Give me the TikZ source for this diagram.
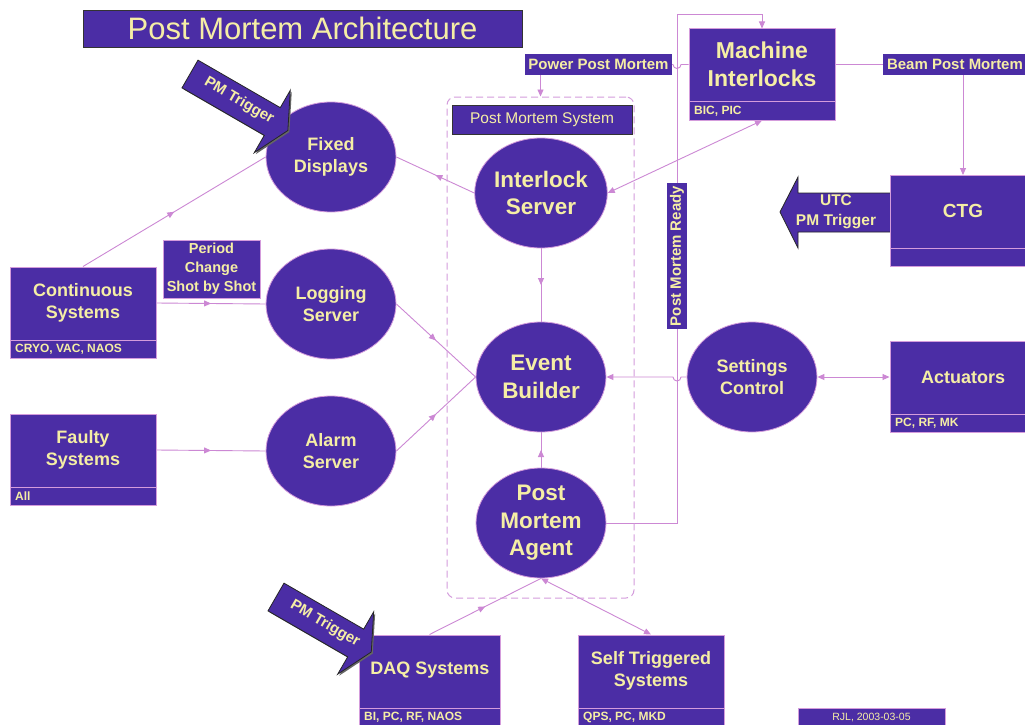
\documentclass[tikz,border=0pt]{standalone}
\usepackage{fontspec}
\setmainfont{Liberation Sans}
\usetikzlibrary{arrows.meta,decorations.markings,shapes.geometric,calc}
\definecolor{pmfill}{HTML}{4B2DA5}
\definecolor{pmtext}{HTML}{F5EEA5}
\definecolor{pmline}{HTML}{CC88D4}
\definecolor{pmedge}{HTML}{D49CDC}
\newcommand{\pmfs}[2]{\fontsize{#1}{#2}\selectfont}
\pgfdeclarelayer{bg}
\pgfsetlayers{bg,main}
\tikzset{
 tipa/.tip={Triangle[length=7pt,width=6pt]},
 conn/.style={pmline, line width=0.9pt},
 midarrow/.style={postaction={decorate}, decoration={markings, mark=at position #1 with {\arrow{tipa}}}},
 midarrow/.default=0.5,
 ell/.style={ellipse, fill=pmfill, draw=pmedge, line width=0.8pt, minimum width=130pt, minimum height=110pt, inner sep=0pt, text=pmtext, align=center, font=\bfseries\pmfs{18}{22}},
 big/.style={font=\bfseries\pmfs{22.5}{27.5}},
 sysbox/.style={rectangle, fill=pmfill, draw=pmedge, line width=1pt, inner sep=0pt},
 boxtext/.style={text=pmtext, align=center, font=\bfseries\pmfs{18}{22}, inner sep=0pt},
 subtext/.style={text=pmtext, anchor=west, font=\bfseries\pmfs{12}{14}, inner sep=0pt},
 tag/.style={rectangle, fill=pmfill, text=pmtext, inner sep=0pt, font=\bfseries\pmfs{15}{17}},
 darkedge/.style={draw=black!80, line width=0.8pt},
 divider/.style={pmedge, line width=1pt},
 bigarrow/.style={fill=pmfill, draw=black!85, line width=0.8pt, line join=miter},
}
\begin{document}
\begin{tikzpicture}[x=1pt,y=-1pt]
\begin{pgfonlayer}{bg}
\fill[white] (0,0) rectangle (1025,725);
\end{pgfonlayer}
\useasboundingbox (0,0) rectangle (1025,725);

% title
\node[sysbox, darkedge, minimum width=439pt, minimum height=37pt, text=pmtext, font=\pmfs{31}{36}] (title) at (302.5,28.5) {Post Mortem Architecture};

% dashed system frame
\node[draw=pmedge, line width=1pt, dash pattern=on 7pt off 4pt, rounded corners=8pt, minimum width=187pt, minimum height=501pt, inner sep=0pt] (pms) at (540.5,347.5) {};
\node[sysbox, darkedge, minimum width=180pt, minimum height=29pt, text=pmtext, font=\pmfs{15.5}{18}] (pmslabel) at (542,119.5) {Post Mortem System};

% ellipses
\node[ell] (fd) at (331,157) {Fixed\\Displays};
\node[ell] (ls) at (331,304) {Logging\\Server};
\node[ell] (as) at (331,451) {Alarm\\Server};
\node[ell,big] (is) at (541,193) {Interlock\\Server};
\node[ell,big] (eb) at (541,377) {Event\\Builder};
\node[ell,big] (pma) at (541,523) {Post\\Mortem\\Agent};
\node[ell] (sc) at (752,377) {Settings\\Control};

% Machine Interlocks
\node[sysbox, minimum width=146pt, minimum height=91pt] (mi) at (762,74.5) {};
\node[boxtext, font=\bfseries\pmfs{23}{28}] (mit) at (762,64) {Machine\\Interlocks};
\draw[divider] (689,101) -- (835,101);
\node[subtext] (mis) at (694,111) {BIC, PIC};

% Continuous Systems
\node[sysbox, minimum width=146pt, minimum height=91pt] (cs) at (83,312.5) {};
\node[boxtext] (cst) at (83,303) {Continuous\\Systems};
\draw[divider] (10,340) -- (156,340);
\node[subtext] (css) at (15,349) {CRYO, VAC, NAOS};

% Faulty Systems
\node[sysbox, minimum width=146pt, minimum height=91pt] (fs) at (83,459.5) {};
\node[boxtext] (fst) at (83,450) {Faulty\\Systems};
\draw[divider] (10,487) -- (156,487);
\node[subtext] (fss) at (15,496) {All};

% Period box
\node[sysbox, minimum width=97pt, minimum height=58pt, text=pmtext, align=center, font=\bfseries\pmfs{14.5}{19}] (per) at (211.5,269) {Period\\Change\\Shot by Shot};

% UTC arrow
\draw[bigarrow] (890,193) -- (798,193) -- (798,177) -- (780,212) -- (798,248) -- (798,232) -- (890,232);
\node[text=pmtext, align=center, font=\bfseries\pmfs{15.5}{20}, inner sep=0pt] (utc) at (836,212) {UTC\\PM Trigger};

% CTG
\node[sysbox, minimum width=146pt, minimum height=91pt] (ctg) at (963,221) {};
\node[boxtext, font=\bfseries\pmfs{19}{22}] (ctgt) at (963,211) {CTG};
\draw[divider] (890,248) -- (1036,248);

% Actuators
\node[sysbox, minimum width=146pt, minimum height=91pt] (act) at (963,387) {};
\node[boxtext] (actt) at (963,377) {Actuators};
\draw[divider] (890,414) -- (1036,414);
\node[subtext] (acts) at (895,423) {PC, RF, MK};

% DAQ
\node[sysbox, minimum width=141pt, minimum height=91pt] (daq) at (429.5,680.5) {};
\node[boxtext] (daqt) at (430,670) {DAQ Systems};
\draw[divider] (359,708) -- (500,708);
\node[subtext] (daqs) at (364,717) {BI, PC, RF, NAOS};

% Self Triggered
\node[sysbox, minimum width=146pt, minimum height=91pt] (sts) at (651,680.5) {};
\node[boxtext] (stst) at (651,671) {Self Triggered\\Systems};
\draw[divider] (578,708) -- (724,708);
\node[subtext] (stss) at (583,717) {QPS, PC, MKD};

% RJL
\node[sysbox, minimum width=147pt, minimum height=18pt, text=pmtext, font=\pmfs{10.5}{12}] (rjl) at (871.5,717) {RJL, 2003-03-05};

% tags
\node[tag, minimum width=147pt, minimum height=21pt] (ppm) at (598.5,64.5) {Power Post Mortem};
\node[tag, minimum width=144pt, minimum height=21pt] (bpm) at (955,64.5) {Beam Post Mortem};
\node[tag, minimum width=146pt, minimum height=20pt, rotate=90] (rdy) at (677,256) {Post Mortem Ready};

% PM Trigger arrows
\begin{scope}[shift={(191.5,75.5)}, rotate=-30]
 \fill[black!60] (0,-16) -- (95,-16) -- (95,-36) -- (113,0) -- (95,36) -- (95,16) -- (0,16) -- cycle;
\end{scope}
\begin{scope}[shift={(190,74)}, rotate=-30]
 \draw[bigarrow] (0,-16) -- (95,-16) -- (95,-36) -- (113,0) -- (95,36) -- (95,16) -- (0,16) -- cycle;
\end{scope}
\node[rotate=-30, text=pmtext, font=\bfseries\pmfs{15}{17}, inner sep=0pt] (trig1) at (239,101) {PM Trigger};
\begin{scope}[shift={(277.5,598.5)}, rotate=-30]
 \fill[black!60] (0,-16) -- (92,-16) -- (92,-36) -- (110,0) -- (92,36) -- (92,16) -- (0,16) -- cycle;
\end{scope}
\begin{scope}[shift={(276,597)}, rotate=-30]
 \draw[bigarrow] (0,-16) -- (92,-16) -- (92,-36) -- (110,0) -- (92,36) -- (92,16) -- (0,16) -- cycle;
\end{scope}
\node[rotate=-30, text=pmtext, font=\bfseries\pmfs{15}{17}, inner sep=0pt] (trig2) at (325,624) {PM Trigger};

% connectors
\begin{pgfonlayer}{bg}
\draw[conn, midarrow] (cs.north) -- (fd.west);
\draw[conn, midarrow] (is.west) -- (fd.east);
\draw[conn, midarrow] (cst -| cs.east) -- (ls.west);
\draw[conn, midarrow] (ls.east) -- (eb.west);
\draw[conn, midarrow] (as.east) -- (eb.west);
\draw[conn, midarrow] (fst -| fs.east) -- (as.west);
\draw[conn, midarrow] (is.south) -- (eb.north);
\draw[conn, midarrow] (pma.north) -- (eb.south);
\draw[conn, -tipa] (sc.west) -- (681,377) arc[start angle=0, end angle=-180, radius=4pt] -- (eb.east);
\draw[conn, tipa-tipa] (sc.east) -- (sc.east -| act.west);
\draw[conn, tipa-tipa] (mi.south) -- (is.east);
\draw[conn, -tipa] (ctg.north |- bpm.south) -- (ctg.north);
\draw[conn] (bpm -| mi.east) -- (bpm.west);
\draw[conn] (ppm.east) -- (673,64.5) arc[start angle=180, end angle=360, radius=4pt] -- (ppm -| mi.west);
\draw[conn, -tipa] (ppm.south -| pms.north) -- (pms.north);
\draw[conn, -tipa] (pma.east) -- (677,523) -- (677,14) -- (762,14) -- (mi.north);
\draw[conn, midarrow] (daq.north) -- (pma.south);
\draw[conn, tipa-tipa] (pma.south) -- (sts.north);
\end{pgfonlayer}
\end{tikzpicture}
\end{document}
